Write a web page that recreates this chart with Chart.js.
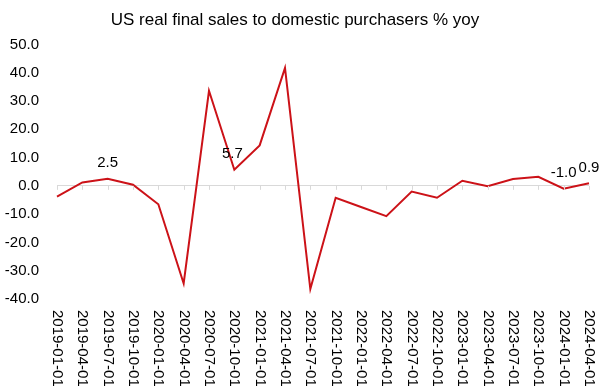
<!DOCTYPE html>
<html>
<head>
<meta charset="utf-8">
<script src="https://cdn.jsdelivr.net/npm/chart.js@4/dist/chart.umd.min.js"></script>
<style>
  html, body { margin: 0; padding: 0; background: #fff; }
  #wrap { width: 600px; height: 391px; }
</style>
</head>
<body>
<div id="wrap"><canvas id="c"></canvas></div>
<script>
// quarterly dates
var categories = [
  "2019-01-01","2019-04-01","2019-07-01","2019-10-01",
  "2020-01-01","2020-04-01","2020-07-01","2020-10-01",
  "2021-01-01","2021-04-01","2021-07-01","2021-10-01",
  "2022-01-01","2022-04-01","2022-07-01","2022-10-01",
  "2023-01-01","2023-04-01","2023-07-01","2023-10-01",
  "2024-01-01","2024-04-01"
];
// % yoy
var salesYoy = [
  -3.8, 1.2, 2.5, 0.4,
  -6.5, -34.5, 33.6, 5.7,
  14.3, 41.7, -36.5, -4.2,
  -7.5, -10.7, -2.0, -4.2,
  1.8, -0.1, 2.4, 3.2,
  -1.0, 0.9
];
// points that carry a value label
var labelledIdx = [2, 7, 20, 21];
var yTicks = [-40, -30, -20, -10, 0, 10, 20, 30, 40, 50];

var fontFam = '"Liberation Sans", Arial, sans-serif';

var extras = {
  id: 'extras',
  afterDatasetsDraw: function(chart){
    var ctx = chart.ctx;
    var xs = chart.scales.x, ys = chart.scales.y;
    var y0 = ys.getPixelForValue(0);
    ctx.save();
    // small tick marks on the zero line
    ctx.strokeStyle = '#d9d9d9';
    ctx.lineWidth = 1;
    for (var i = 0; i < categories.length; i++) {
      var px = Math.round(xs.getPixelForTick(i)) + 0.5;
      ctx.beginPath();
      ctx.moveTo(px, y0);
      ctx.lineTo(px, y0 + 4);
      ctx.stroke();
    }
    // value labels
    var meta = chart.getDatasetMeta(0);
    ctx.fillStyle = '#000';
    ctx.font = '15px ' + fontFam;
    ctx.textAlign = 'center';
    ctx.textBaseline = 'bottom';
    labelledIdx.forEach(function(k){
      var pt = meta.data[k];
      var dx = 0;
      if (k === 7) dx = -2;
      ctx.fillText(salesYoy[k].toFixed(1), pt.x + dx, pt.y - 8);
    });
    // rotated category labels, reading top to bottom
    ctx.font = '15px ' + fontFam;
    ctx.textAlign = 'left';
    ctx.textBaseline = 'middle';
    var top = chart.chartArea.bottom + 11;
    for (var j = 0; j < categories.length; j++) {
      var x = xs.getPixelForTick(j);
      ctx.save();
      ctx.translate(x, top);
      ctx.rotate(Math.PI / 2);
      ctx.fillText(categories[j], 0, 0);
      ctx.restore();
    }
    ctx.restore();
  }
};

new Chart(document.getElementById('c'), {
  type: 'line',
  data: {
    labels: categories,
    datasets: [{
      data: salesYoy,
      borderColor: '#cc1218',
      borderWidth: 2,
      pointRadius: 0,
      tension: 0,
      fill: false
    }]
  },
  options: {
    responsive: true,
    maintainAspectRatio: false,
    animation: false,
    layout: { padding: { left: 1, right: 11, top: 0, bottom: 84 } },
    plugins: {
      legend: { display: false },
      tooltip: { enabled: false },
      title: {
        display: true,
        text: 'US real final sales to domestic purchasers % yoy',
        color: '#000',
        font: { family: fontFam, size: 17, weight: 'normal' },
        padding: { top: 10, bottom: 14 }
      }
    },
    scales: {
      x: {
        offset: false,
        grid: { display: false },
        border: { display: false },
        ticks: { display: false }
      },
      y: {
        min: -40,
        max: 50,
        afterBuildTicks: function(axis){
          axis.ticks = yTicks.map(function(v){ return { value: v }; });
        },
        afterFit: function(axis){ axis.width = 56; },
        border: { display: false },
        grid: {
          drawTicks: false,
          color: function(c){ return c.tick && c.tick.value === 0 ? '#d9d9d9' : 'rgba(0,0,0,0)'; }
        },
        ticks: {
          color: '#000',
          padding: 18,
          font: { family: fontFam, size: 15 },
          callback: function(v){ return Number(v).toFixed(1); }
        }
      }
    }
  },
  plugins: [extras]
});
</script>
</body>
</html>
